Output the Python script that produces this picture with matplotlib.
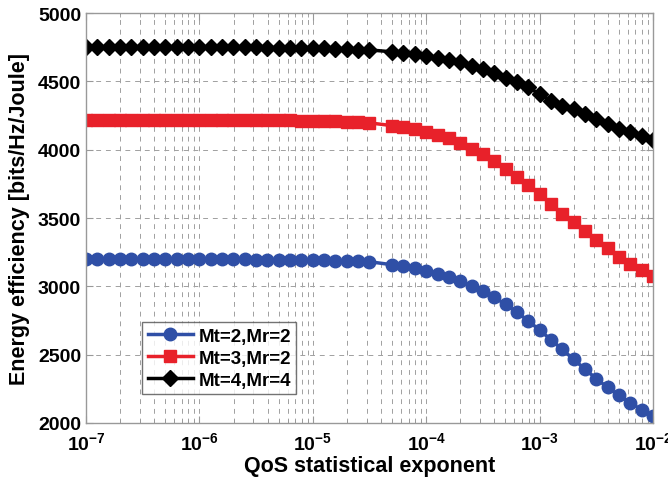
import numpy as np
import matplotlib
matplotlib.use('Agg')
import matplotlib.pyplot as plt
from matplotlib.ticker import LogLocator, NullFormatter, FixedLocator

plt.rcParams['font.family'] = ['Liberation Sans', 'DejaVu Sans']
plt.rcParams['font.weight'] = 'bold'
plt.rcParams['mathtext.fontset'] = 'custom'
plt.rcParams['mathtext.rm'] = 'Liberation Sans:bold'
plt.rcParams['mathtext.bf'] = 'Liberation Sans:bold'

# log10 of the QoS exponent at each sample (the -4.4 point is missing in the source)
log_theta = [-7.0, -6.9, -6.8, -6.7, -6.6, -6.5, -6.4, -6.3, -6.2, -6.1,
             -6.0, -5.9, -5.8, -5.7, -5.6, -5.5, -5.4, -5.3, -5.2, -5.1,
             -5.0, -4.9, -4.8, -4.7, -4.6, -4.5,
             -4.3, -4.2, -4.1, -4.0, -3.9, -3.8, -3.7, -3.6, -3.5, -3.4,
             -3.3, -3.2, -3.1, -3.0, -2.9, -2.8, -2.7, -2.6, -2.5, -2.4,
             -2.3, -2.2, -2.1, -2.0]

ee_22 = [3198, 3198, 3198, 3198, 3198, 3198, 3198, 3198, 3198, 3198,
         3198, 3198, 3198, 3197, 3197, 3196, 3196, 3195, 3194, 3193,
         3192, 3190, 3188, 3186, 3183, 3180,
         3158, 3148, 3133, 3114, 3092, 3066, 3036, 3002, 2964, 2920,
         2868, 2810, 2748, 2680, 2610, 2538, 2466, 2394, 2324, 2260,
         2202, 2148, 2096, 2051]

ee_32 = [4220, 4220, 4220, 4220, 4220, 4220, 4220, 4220, 4220, 4220,
         4220, 4218, 4218, 4217, 4217, 4216, 4216, 4215, 4214, 4213,
         4212, 4210, 4207, 4204, 4200, 4196,
         4176, 4166, 4150, 4132, 4110, 4085, 4052, 4008, 3968, 3918,
         3860, 3800, 3740, 3676, 3604, 3530, 3470, 3402, 3340, 3280,
         3216, 3164, 3120, 3076]

ee_44 = [4750, 4750, 4750, 4750, 4750, 4750, 4750, 4750, 4750, 4750,
         4750, 4750, 4749, 4749, 4748, 4748, 4747, 4746, 4745, 4744,
         4743, 4741, 4739, 4736, 4733, 4730,
         4716, 4706, 4698, 4686, 4672, 4656, 4640, 4614, 4590, 4564,
         4528, 4492, 4455, 4408, 4358, 4322, 4294, 4262, 4224, 4188,
         4152, 4128, 4100, 4068]

labels = ['Mt=2,Mr=2', 'Mt=3,Mr=2', 'Mt=4,Mr=4']
y_ticks = [2000, 2500, 3000, 3500, 4000, 4500, 5000]

theta = 10.0 ** np.array(log_theta)

fig = plt.figure(figsize=(6.68, 4.85), dpi=100)
ax = fig.add_axes([0.1287, 0.1258, 0.8488, 0.8453])

ax.plot(theta, ee_22, color='#2f4fa6', lw=2.5, marker='o', ms=9, label=labels[0])
ax.plot(theta, ee_32, color='#e8212a', lw=2.5, marker='s', ms=9, label=labels[1])
ax.plot(theta, ee_44, color='black', lw=2.5, marker='D', ms=8, label=labels[2])

ax.set_xscale('log')
ax.set_xlim(1e-7, 1e-2)
ax.set_ylim(2000, 5000)
ax.yaxis.set_major_locator(FixedLocator(y_ticks))
ax.xaxis.set_minor_locator(LogLocator(base=10, subs=np.arange(2, 10), numticks=20))
ax.xaxis.set_minor_formatter(NullFormatter())
ax.set_xticks([1e-7, 1e-6, 1e-5, 1e-4, 1e-3, 1e-2])
ax.set_xticklabels([r'$\mathbf{10^{%d}}$' % e for e in range(-7, -1)])

ax.grid(True, which='major', axis='both', color='#a0a0a0', linestyle=(0, (5, 5)), lw=0.7)
ax.grid(True, which='minor', axis='x', color='#a0a0a0', linestyle=(0, (5, 5)), lw=0.7)
ax.set_axisbelow(True)

for s in ax.spines.values():
    s.set_color('#999999')
    s.set_linewidth(1.0)
ax.tick_params(which='both', direction='in', top=True, right=True, color='#999999')
ax.tick_params(which='major', length=5, labelsize=14)
ax.tick_params(which='minor', length=3)
ax.tick_params(axis='x', pad=6)
for lbl in ax.get_yticklabels():
    lbl.set_fontweight('bold')

ax.set_xlabel('QoS statistical exponent', fontsize=15.5, fontweight='bold', labelpad=1)
ax.set_ylabel('Energy efficiency [bits/Hz/Joule]', fontsize=15.5, fontweight='bold', labelpad=6)

leg = ax.legend(loc='lower left', bbox_to_anchor=(0.099, 0.07), borderaxespad=0,
                fancybox=False, edgecolor='#505050', handlelength=2.4,
                prop={'weight': 'bold', 'size': 13.5}, borderpad=0.3,
                labelspacing=0.25, handletextpad=0.3)
leg.get_frame().set_linewidth(1.0)

fig.savefig('out.png', dpi=100)
